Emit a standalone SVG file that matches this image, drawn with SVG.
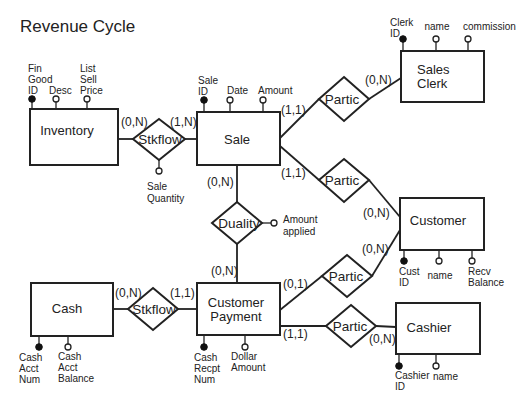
<svg xmlns="http://www.w3.org/2000/svg" width="521" height="412" viewBox="0 0 521 412">
<style>
text{font-family:"Liberation Sans",Arial,sans-serif;fill:#222}
.title{font-size:17px}
.ent{font-size:13px}
.rel{font-size:13.5px}
.card{font-size:12px}
.att{font-size:10px}
.box,.dia{fill:#fff;stroke:#222;stroke-width:2}
.ln{stroke:#222;stroke-width:1.8;fill:none}
.key{fill:#111;stroke:#111;stroke-width:1}
.opt{fill:#fff;stroke:#222;stroke-width:1.3}
.al{stroke:#222;stroke-width:1.3}
</style>
<rect width="521" height="412" fill="#fff"/>
<text class="title" x="20" y="32">Revenue Cycle</text>

<g id="connectors">
<line class="ln" x1="118" y1="139" x2="133" y2="139"/>
<line class="ln" x1="185" y1="139" x2="197" y2="139"/>
<line class="ln" x1="237" y1="165" x2="237" y2="202"/>
<line class="ln" x1="237" y1="244" x2="237" y2="283"/>
<line class="ln" x1="280" y1="138" x2="319" y2="99"/>
<line class="ln" x1="369" y1="99" x2="401" y2="78"/>
<line class="ln" x1="280" y1="146" x2="319" y2="180"/>
<line class="ln" x1="369" y1="180" x2="400" y2="217"/>
<line class="ln" x1="280" y1="310" x2="322" y2="276"/>
<line class="ln" x1="372" y1="276" x2="400" y2="230"/>
<line class="ln" x1="280" y1="326" x2="326" y2="326"/>
<line class="ln" x1="376" y1="326" x2="396" y2="327"/>
<line class="ln" x1="113" y1="309" x2="128" y2="309"/>
<line class="ln" x1="178" y1="309" x2="197" y2="309"/>
</g>

<g id="inventory">
<line class="al" x1="32" y1="99" x2="32" y2="109"/>
<line class="al" x1="56" y1="99" x2="56" y2="109"/>
<line class="al" x1="87" y1="99" x2="87" y2="109"/>
<rect class="box" x="30" y="109" width="88" height="56"/>
<circle class="key" cx="32" cy="99" r="3.3"/>
<circle class="opt" cx="56" cy="99" r="3"/>
<circle class="opt" cx="87" cy="99" r="3"/>
<text class="ent" x="67" y="135" text-anchor="middle">Inventory</text>
<text class="att" x="28" y="72">Fin</text>
<text class="att" x="28" y="83">Good</text>
<text class="att" x="28" y="94">ID</text>
<text class="att" x="49" y="94">Desc</text>
<text class="att" x="80" y="72">List</text>
<text class="att" x="80" y="83">Sell</text>
<text class="att" x="80" y="94">Price</text>
</g>

<g id="stkflow1">
<line class="al" x1="159" y1="160" x2="159" y2="171"/>
<polygon class="dia" points="159,119 185,139 159,160 133,139"/>
<circle class="opt" cx="159" cy="171" r="3"/>
<text class="rel" x="160" y="144" text-anchor="middle">Stkflow</text>
<text class="att" x="147" y="190">Sale</text>
<text class="att" x="147" y="202">Quantity</text>
<text class="card" x="121" y="126">(0,N)</text>
<text class="card" x="170" y="126">(1,N)</text>
</g>

<g id="sale">
<line class="al" x1="204" y1="100" x2="204" y2="112"/>
<line class="al" x1="230" y1="100" x2="230" y2="112"/>
<line class="al" x1="263" y1="100" x2="263" y2="112"/>
<rect class="box" x="197" y="112" width="83" height="53"/>
<circle class="key" cx="204" cy="100" r="3.3"/>
<circle class="opt" cx="230" cy="100" r="3"/>
<circle class="opt" cx="263" cy="100" r="3"/>
<text class="ent" x="237" y="144" text-anchor="middle">Sale</text>
<text class="att" x="198" y="84">Sale</text>
<text class="att" x="198" y="95">ID</text>
<text class="att" x="227" y="94">Date</text>
<text class="att" x="258" y="94">Amount</text>
<text class="card" x="207" y="186">(0,N)</text>
</g>

<g id="duality">
<line class="al" x1="262" y1="223" x2="271" y2="223"/>
<polygon class="dia" points="237,202 262,223 237,244 212,223"/>
<circle class="opt" cx="274" cy="223" r="3"/>
<text class="rel" x="239" y="228" text-anchor="middle">Duality</text>
<text class="att" x="283" y="223">Amount</text>
<text class="att" x="283" y="235">applied</text>
<text class="card" x="211" y="275">(0,N)</text>
</g>

<g id="partic1">
<polygon class="dia" points="344,77 369,99 344,121 319,99"/>
<text class="rel" x="342" y="104" text-anchor="middle">Partic</text>
<text class="card" x="281" y="114">(1,1)</text>
<text class="card" x="365" y="84">(0,N)</text>
</g>

<g id="partic2">
<polygon class="dia" points="344,159 369,180 344,202 319,180"/>
<text class="rel" x="342" y="185" text-anchor="middle">Partic</text>
<text class="card" x="281" y="177">(1,1)</text>
<text class="card" x="363" y="217">(0,N)</text>
</g>

<g id="sales-clerk">
<line class="al" x1="403" y1="39" x2="403" y2="51"/>
<line class="al" x1="436" y1="39" x2="436" y2="51"/>
<line class="al" x1="468" y1="39" x2="468" y2="51"/>
<rect class="box" x="401" y="51" width="83" height="51"/>
<circle class="key" cx="403" cy="39" r="3.3"/>
<circle class="opt" cx="436" cy="39" r="3"/>
<circle class="opt" cx="468" cy="39" r="3"/>
<text class="ent" x="417" y="74">Sales</text>
<text class="ent" x="417" y="88">Clerk</text>
<text class="att" x="390" y="26">Clerk</text>
<text class="att" x="390" y="37">ID</text>
<text class="att" x="437" y="30" text-anchor="middle">name</text>
<text class="att" x="463" y="30">commission</text>
</g>

<g id="customer">
<line class="al" x1="404" y1="250" x2="404" y2="261"/>
<line class="al" x1="439" y1="250" x2="439" y2="261"/>
<line class="al" x1="472" y1="250" x2="472" y2="261"/>
<rect class="box" x="400" y="198" width="84" height="52"/>
<circle class="key" cx="404" cy="261" r="3.3"/>
<circle class="opt" cx="439" cy="261" r="3"/>
<circle class="opt" cx="472" cy="261" r="3"/>
<text class="ent" x="438" y="225" text-anchor="middle">Customer</text>
<text class="att" x="399" y="275">Cust</text>
<text class="att" x="399" y="286">ID</text>
<text class="att" x="440" y="279" text-anchor="middle">name</text>
<text class="att" x="468" y="275">Recv</text>
<text class="att" x="468" y="286">Balance</text>
</g>

<g id="partic3">
<polygon class="dia" points="347,255 372,276 347,297 322,276"/>
<text class="rel" x="346" y="281" text-anchor="middle">Partic</text>
<text class="card" x="283" y="288">(0,1)</text>
<text class="card" x="362" y="253">(0,N)</text>
</g>

<g id="partic4">
<polygon class="dia" points="351,305 376,326 351,347 326,326"/>
<text class="rel" x="350" y="331" text-anchor="middle">Partic</text>
<text class="card" x="283" y="338">(1,1)</text>
<text class="card" x="369" y="343">(0,N)</text>
</g>

<g id="cashier">
<line class="al" x1="399" y1="354" x2="399" y2="366"/>
<line class="al" x1="436" y1="354" x2="436" y2="366"/>
<rect class="box" x="396" y="303" width="84" height="51"/>
<circle class="key" cx="399" cy="366" r="3.3"/>
<circle class="opt" cx="436" cy="366" r="3"/>
<text class="ent" x="429" y="332" text-anchor="middle">Cashier</text>
<text class="att" x="395" y="379">Cashier</text>
<text class="att" x="395" y="390">ID</text>
<text class="att" x="433" y="380">name</text>
</g>

<g id="customer-payment">
<line class="al" x1="204" y1="335" x2="204" y2="347"/>
<line class="al" x1="245" y1="335" x2="245" y2="347"/>
<rect class="box" x="197" y="283" width="83" height="52"/>
<circle class="key" cx="204" cy="347" r="3.3"/>
<circle class="opt" cx="245" cy="347" r="3"/>
<text class="ent" x="236" y="307" text-anchor="middle">Customer</text>
<text class="ent" x="236" y="321" text-anchor="middle">Payment</text>
<text class="att" x="194" y="361">Cash</text>
<text class="att" x="194" y="372">Recpt</text>
<text class="att" x="194" y="383">Num</text>
<text class="att" x="231" y="360">Dollar</text>
<text class="att" x="231" y="371">Amount</text>
</g>

<g id="stkflow2">
<polygon class="dia" points="153,288 178,309 153,330 128,309"/>
<text class="rel" x="154" y="314" text-anchor="middle">Stkflow</text>
<text class="card" x="115" y="297">(0,N)</text>
<text class="card" x="170" y="297">(1,1)</text>
</g>

<g id="cash">
<line class="al" x1="39" y1="336" x2="39" y2="347"/>
<line class="al" x1="68" y1="336" x2="68" y2="347"/>
<rect class="box" x="31" y="283" width="82" height="53"/>
<circle class="key" cx="39" cy="347" r="3.3"/>
<circle class="opt" cx="68" cy="347" r="3"/>
<text class="ent" x="67" y="313" text-anchor="middle">Cash</text>
<text class="att" x="19" y="361">Cash</text>
<text class="att" x="19" y="372">Acct</text>
<text class="att" x="19" y="383">Num</text>
<text class="att" x="58" y="360">Cash</text>
<text class="att" x="58" y="371">Acct</text>
<text class="att" x="58" y="382">Balance</text>
</g>
</svg>
